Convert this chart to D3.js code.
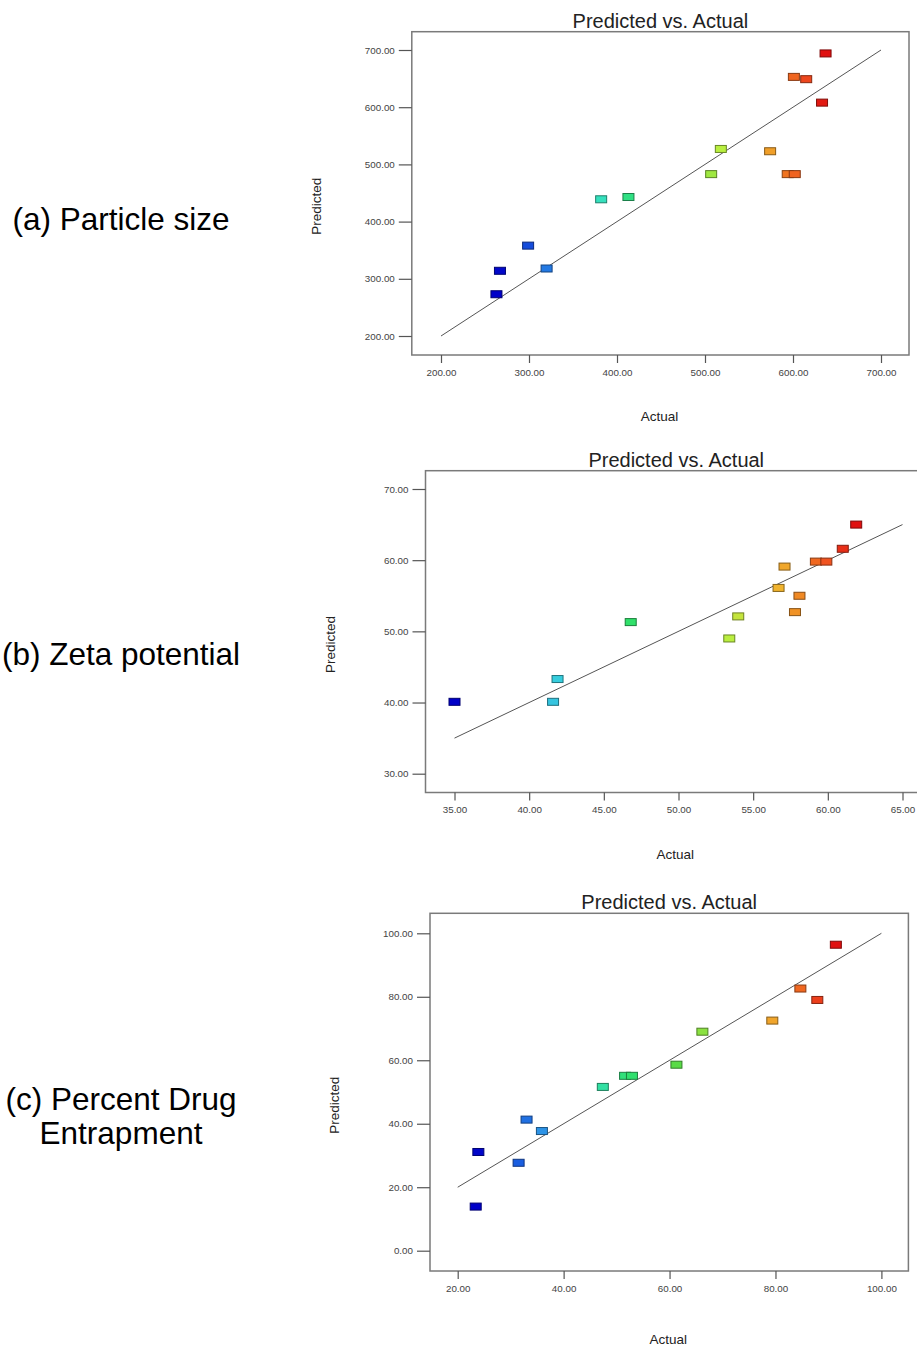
<!DOCTYPE html>
<html>
<head>
<meta charset="utf-8">
<script src="https://cdn.jsdelivr.net/npm/d3@7"></script>
<style>
  html, body { margin: 0; padding: 0; background: #fff; }
  svg { display: block; }
</style>
</head>
<body>
<svg id="chart" width="917" height="1347"></svg>
<script>
// ---------- DATA ----------
const panelLabels = [["(a) Particle size"], ["(b) Zeta potential"], ["(c) Percent Drug", "Entrapment"]];
const chartTitle = "Predicted vs. Actual";
const xAxisTitle = "Actual";
const yAxisTitle = "Predicted";

// (a) Particle size
const sizeActual    = [263, 267, 299, 320, 382, 413, 507, 518, 574, 594, 602, 601, 615, 633, 637];
const sizePredicted = [273, 314, 358, 318, 439, 443, 483, 527, 523, 483, 483, 653, 649, 608, 694];
const sizeTicksX = [200, 300, 400, 500, 600, 700];
const sizeTicksY = [200, 300, 400, 500, 600, 700];

// (b) Zeta potential
const zetaActual    = [35.0, 41.6, 41.9, 46.8, 53.4, 54.0, 56.7, 57.1, 57.8, 58.1, 59.2, 59.9, 61.0, 61.9];
const zetaPredicted = [40.1, 40.1, 43.3, 51.3, 49.0, 52.1, 56.1, 59.1, 52.7, 55.0, 59.8, 59.8, 61.6, 65.0];
const zetaTicksX = [35, 40, 45, 50, 55, 60, 65];
const zetaTicksY = [30, 40, 50, 60, 70];

// (c) Percent drug entrapment
const pdeActual    = [23.4, 23.9, 31.5, 33.0, 35.9, 47.4, 51.6, 52.9, 61.3, 66.2, 79.4, 84.7, 87.9, 91.4];
const pdePredicted = [13.9, 31.1, 27.7, 41.3, 37.7, 51.6, 55.1, 55.1, 58.6, 69.0, 72.5, 82.6, 79.0, 96.4];
const pdeTicksX = [20, 40, 60, 80, 100];
const pdeTicksY = [0, 20, 40, 60, 80, 100];

// ---------- STYLE / LAYOUT ----------
const colorStops = [0, 0.12, 0.2, 0.28, 0.38, 0.48, 0.6, 0.68, 0.8, 0.87, 0.93, 1];
const colorRange = ["#0000c8", "#1a5fe0", "#30a0e8", "#38e0d8", "#30e090", "#30e050",
                    "#70d840", "#b8f040", "#f0b830", "#f08020", "#f05020", "#e01010"];

const panels = [
  { actual: sizeActual, predicted: sizePredicted, ticksX: sizeTicksX, ticksY: sizeTicksY,
    frame: { l: 411.8, t: 31.7, r: 909, b: 355 },
    xr: [441, 881], yr: [336, 50], label: panelLabels[0], labelY: 230, xTitleDy: 66 },
  { actual: zetaActual, predicted: zetaPredicted, ticksX: zetaTicksX, ticksY: zetaTicksY,
    frame: { l: 425.5, t: 470.7, r: 927, b: 792.5 },
    xr: [454.5, 902.5], yr: [773.7, 489], label: panelLabels[1], labelY: 665, xTitleDy: 66 },
  { actual: pdeActual, predicted: pdePredicted, ticksX: pdeTicksX, ticksY: pdeTicksY,
    frame: { l: 430, t: 913.3, r: 908.4, b: 1271 },
    xr: [457.7, 881.4], yr: [1250.7, 933.3], label: panelLabels[2], labelY: 1110, xTitleDy: 73 }
];

const svg = d3.select("#chart");
const font = "'Liberation Sans', Arial, Helvetica, sans-serif";
const fmt = d3.format(".2f");

panels.forEach((p) => {
  const xDom = d3.extent(p.ticksX), yDom = d3.extent(p.ticksY);
  const x = d3.scaleLinear().domain(xDom).range(p.xr);
  const y = d3.scaleLinear().domain(yDom).range(p.yr);
  const aExt = d3.extent(p.actual);
  const color = d3.scaleLinear()
    .domain(colorStops.map(t => aExt[0] + t * (aExt[1] - aExt[0])))
    .range(colorRange)
    .interpolate(d3.interpolateRgb);

  const g = svg.append("g");
  const f = p.frame;

  // frame
  g.append("rect")
    .attr("x", f.l).attr("y", f.t)
    .attr("width", f.r - f.l).attr("height", f.b - f.t)
    .attr("fill", "none").attr("stroke", "#7a7a7a").attr("stroke-width", 1.5);

  // x axis
  const xAxis = d3.axisBottom(x).tickValues(p.ticksX).tickFormat(fmt).tickSize(8).tickPadding(6);
  const gx = g.append("g").attr("transform", `translate(0,${f.b})`).call(xAxis);
  gx.select(".domain").remove();
  gx.selectAll(".tick line").attr("stroke", "#555").attr("stroke-width", 1.2);
  gx.selectAll(".tick text").attr("fill", "#444").style("font-family", font).style("font-size", "9.8px");

  // y axis
  const yAxis = d3.axisLeft(y).tickValues(p.ticksY).tickFormat(fmt).tickSize(13).tickPadding(4);
  const gy = g.append("g").attr("transform", `translate(${f.l},0)`).call(yAxis);
  gy.select(".domain").remove();
  gy.selectAll(".tick line").attr("stroke", "#555").attr("stroke-width", 1.2);
  gy.selectAll(".tick text").attr("fill", "#444").style("font-family", font).style("font-size", "9.8px");

  // diagonal reference line
  g.append("line")
    .attr("x1", x(xDom[0])).attr("y1", y(xDom[0]))
    .attr("x2", x(xDom[1])).attr("y2", y(xDom[1]))
    .attr("stroke", "#555").attr("stroke-width", 1);

  // points
  const pts = p.actual.map((a, i) => ({ a, pr: p.predicted[i] }));
  g.selectAll("rect.pt").data(pts).enter().append("rect")
    .attr("class", "pt")
    .attr("x", d => x(d.a) - 5.5).attr("y", d => y(d.pr) - 3.5)
    .attr("width", 11).attr("height", 7)
    .attr("fill", d => color(d.a))
    .attr("stroke", d => d3.color(color(d.a)).darker(1.6))
    .attr("stroke-width", 1);

  // title
  const cx = (f.l + f.r) / 2;
  g.append("text").attr("x", cx).attr("y", f.t - 4)
    .attr("text-anchor", "middle").attr("fill", "#222")
    .style("font-family", font).style("font-size", "20px")
    .text(chartTitle);

  // x axis title
  g.append("text").attr("x", cx - 1).attr("y", f.b + p.xTitleDy)
    .attr("text-anchor", "middle").attr("fill", "#222")
    .style("font-family", font).style("font-size", "13.5px")
    .text(xAxisTitle);

  // y axis title
  const cy = (f.t + f.b) / 2 + 13;
  g.append("text")
    .attr("transform", `translate(${f.l - 91},${cy}) rotate(-90)`)
    .attr("text-anchor", "middle").attr("fill", "#222")
    .style("font-family", font).style("font-size", "13.5px")
    .text(yAxisTitle);

  // panel label on the left
  const lt = svg.append("text").attr("text-anchor", "middle").attr("fill", "#000")
    .style("font-family", font).style("font-size", "31.5px");
  p.label.forEach((line, i) => {
    lt.append("tspan").attr("x", 121).attr("y", p.labelY + i * 34).text(line);
  });
});
</script>
</body>
</html>
